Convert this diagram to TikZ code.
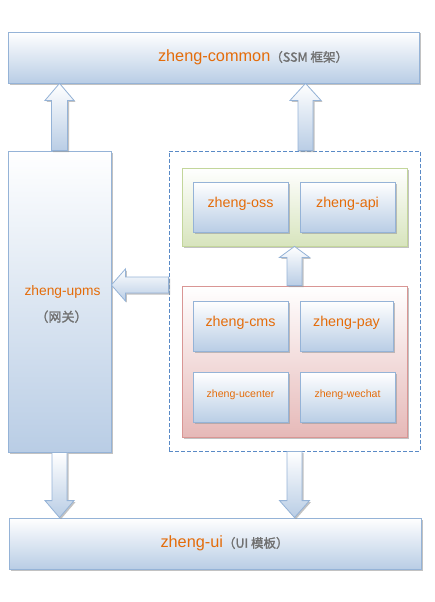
\documentclass[tikz,border=0pt]{standalone}
\usepackage{fontspec}
\setmainfont{Liberation Sans}
\newfontfamily\cjk{Noto Sans CJK SC}[FakeBold=1.5]
\usetikzlibrary{calc,shadows}
\definecolor{bordc}{HTML}{95B3D7}
\definecolor{boxb}{HTML}{B9CDE5}
\definecolor{grnb}{HTML}{C3D69B}
\definecolor{grnf}{HTML}{D7E4BD}
\definecolor{redb}{HTML}{D99694}
\definecolor{redf}{HTML}{E6B9B8}
\definecolor{dashc}{HTML}{5A8AC6}
\definecolor{orng}{HTML}{E46C0A}
\definecolor{gtxt}{HTML}{707070}
\tikzset{
  shd/.style={drop shadow={shadow xshift=1.5pt,shadow yshift=-1.5pt,fill=black!40,opacity=0.6}},
  box/.style={shd, draw=bordc, line width=0.8pt, top color=white, bottom color=boxb,
    inner sep=0pt, text=orng, text height=5pt, text depth=5pt},
  modbox/.style={box, minimum width=95pt, minimum height=50pt, font=\fontsize{14.3}{17}\selectfont},
  smallmod/.style={modbox, font=\fontsize{10.6}{13}\selectfont},
  grp/.style={shd, line width=0.8pt, inner sep=0pt},
  barrow/.style={shd, draw=bordc, line width=0.8pt, top color=white, bottom color=boxb},
  lbl/.style={anchor=base, text=orng, inner sep=0pt}
}
\newcommand\vblk[6]{\path[barrow] let \p1=(#1), \p2=(#2) in
  ({\x1+#3-#4},{\y1}) -- ({\x1+#3-#4},{\y2-(#6)}) -- ({\x1+#3-#5},{\y2-(#6)}) -- ({\x1+#3},{\y2})
  -- ({\x1+#3+#5},{\y2-(#6)}) -- ({\x1+#3+#4},{\y2-(#6)}) -- ({\x1+#3+#4},{\y1}) -- cycle;}
\begin{document}
\begin{tikzpicture}[x=1pt,y=-1pt]
\useasboundingbox (0,0) rectangle (435,602);

\node[box, minimum width=411pt, minimum height=51pt,
  label={[lbl, xshift=39.5pt, font=\fontsize{16.3}{19}\selectfont]center:zheng-common{\cjk\fontsize{12.5}{14}\selectfont\color{gtxt}（SSM 框架）}}]
  (common) at (213.5,57.5) {};

\node[box, minimum width=103pt, minimum height=301pt,
  label={[lbl, xshift=3pt, yshift=9.8pt, font=\fontsize{13.8}{16}\selectfont]center:zheng-upms},
  label={[lbl, xshift=2pt, yshift=-15.2pt, font=\cjk\fontsize{13}{15}\selectfont, text=gtxt]center:（网关）}]
  (upms) at (59.5,301.5) {};

\node[draw=dashc, dash pattern=on 4pt off 2pt, line width=0.8pt, inner sep=0pt,
  minimum width=251pt, minimum height=300pt] (dashed) at (294.5,301) {};

\node[grp, draw=grnb, top color=white, bottom color=grnf, minimum width=225pt, minimum height=78pt] (green) at (294.5,207) {};
\node[grp, draw=redb, top color=white, bottom color=redf, minimum width=225pt, minimum height=151pt] (red) at (294.5,361.5) {};

\node[modbox] (oss) at (240.5,207) {zheng-oss};
\node[modbox] (api) at (347.5,207) {zheng-api};
\node[modbox] (cms) at (240.5,326) {zheng-cms};
\node[modbox, minimum width=93pt] (pay) at (346.5,326) {zheng-pay};
\node[smallmod] (ucenter) at (240.5,397.5) {zheng-ucenter};
\node[smallmod] (wechat) at (347.5,397.5) {zheng-wechat};

\node[box, minimum width=412pt, minimum height=51pt,
  label={[lbl, xshift=9.5pt, font=\fontsize{16.3}{19}\selectfont]center:zheng-ui{\cjk\fontsize{12.5}{14}\selectfont\color{gtxt}（UI 模板）}}]
  (ui) at (215,543.5) {};

\vblk{upms.north}{common.south}{0pt}{8pt}{14.5pt}{17pt}
\vblk{dashed.north}{common.south}{11pt}{7.5pt}{15.5pt}{17pt}
\vblk{red.north}{green.south}{0pt}{7.5pt}{15pt}{11pt}
\vblk{upms.south}{ui.north}{0pt}{7.5pt}{14.5pt}{-17pt}
\vblk{dashed.south}{ui.north}{0pt}{7.5pt}{15pt}{-17pt}
\path[barrow] let \p1=(dashed.west), \p2=(upms.east) in
  ({\x1},{\y1+24pt}) -- ({\x2+14pt},{\y1+24pt}) -- ({\x2+14pt},{\y1+32pt}) -- ({\x2},{\y1+16pt})
  -- ({\x2+14pt},{\y1}) -- ({\x2+14pt},{\y1+8pt}) -- ({\x1},{\y1+8pt}) -- cycle;
\end{tikzpicture}
\end{document}
